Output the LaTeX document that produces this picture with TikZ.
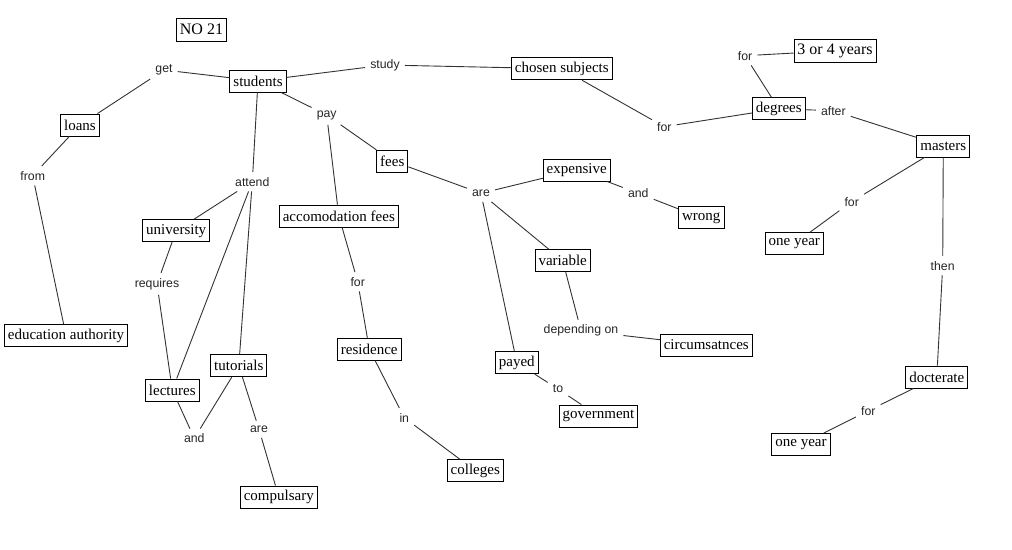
\documentclass[tikz,border=0pt]{standalone}
\usepackage{fontspec}
\setmainfont{Liberation Serif}
\newfontfamily\lblfam{Liberation Sans}
\newcommand\bxf{\fontsize{15}{18}\selectfont}
\newcommand\bigbxf{\fontsize{16}{19}\selectfont}
\newcommand\lbf{\lblfam\fontsize{12.3}{14}\selectfont}
\begin{document}
\begin{tikzpicture}[x=1pt,y=-1pt,
  concept/.style={draw=black, line width=0.9pt, font=\bxf, inner xsep=3.5pt, inner ysep=0pt, minimum height=22pt},
  bigconcept/.style={concept, font=\bigbxf, minimum height=23pt},
  lbl/.style={font=\lbf, inner sep=5pt, text=black!85},
  link/.style={draw=black!80, line width=0.9pt}]
\useasboundingbox[fill=white] (0,0) rectangle (1012,549);

% concepts
\node[bigconcept] (no21) at (201.5,29.5) {NO 21};
\node[concept] (students) at (258,81) {students};
\node[concept] (loans) at (80,125) {loans};
\node[concept] (edu) at (66,335.5) {education authority};
\node[concept] (chosen) at (561.8,68.8) {chosen subjects};
\node[concept] (fees) at (392.3,161) {fees};
\node[concept] (expensive) at (576.7,170) {expensive};
\node[concept] (wrong) at (701.3,217.8) {wrong};
\node[bigconcept] (years) at (835,50.8) {3 or 4 years};
\node[concept] (degrees) at (778.8,108.8) {degrees};
\node[concept] (masters) at (943.3,146) {masters};
\node[concept] (oneyearA) at (794.3,243.7) {one year};
\node[concept] (docterate) at (936.8,377) {docterate};
\node[concept] (oneyearB) at (801,444.5) {one year};
\node[concept] (university) at (176.2,230.7) {university};
\node[concept] (lectures) at (172.3,390) {lectures};
\node[concept] (tutorials) at (238.8,365.7) {tutorials};
\node[concept] (compulsary) at (278.8,497) {compulsary};
\node[concept] (accom) at (338.8,216) {accomodation fees};
\node[concept] (residence) at (369.3,349.2) {residence};
\node[concept] (colleges) at (475.3,470.8) {colleges};
\node[concept] (variable) at (562.7,260.7) {variable};
\node[concept] (circ) at (706.3,345) {circumsatnces};
\node[concept] (payed) at (516.8,362.7) {payed};
\node[concept] (government) at (598.5,416) {government};

% linking phrases
\node[lbl] (get) at (164,70) {get};
\node[lbl] (from) at (32.7,175.7) {from};
\node[lbl] (study) at (385,65) {study};
\node[lbl] (forB) at (664.3,126.7) {for};
\node[lbl] (forA) at (745,55.7) {for};
\node[lbl] (after) at (833.3,110.7) {after};
\node[lbl] (forC) at (851.7,201.7) {for};
\node[lbl] (then) at (942.7,265.7) {then};
\node[lbl] (forD) at (868.3,410.7) {for};
\node[lbl] (attend) at (252.3,181.7) {attend};
\node[lbl] (requires) at (157,284) {requires};
\node[lbl] (andA) at (194.3,438.3) {and};
\node[lbl] (areA) at (259,429.3) {are};
\node[lbl] (pay) at (326.7,115) {pay};
\node[lbl] (forE) at (357.7,281.7) {for};
\node[lbl] (in) at (404.3,417.7) {in};
\node[lbl] (areB) at (481,193.3) {are};
\node[lbl] (andB) at (638.3,193.3) {and};
\node[lbl] (depending) at (581,330.7) {depending on};
\node[lbl] (to) at (558,389) {to};

% connectors
\draw[link] (get) -- (students);
\draw[link] (get) -- (loans);
\draw[link] (loans) -- (from);
\draw[link] (from) -- (edu);
\draw[link] (students) -- (study);
\draw[link] (study) -- (chosen);
\draw[link] (chosen) -- (forB);
\draw[link] (forB) -- (degrees);
\draw[link] (degrees) -- (forA);
\draw[link] (forA) -- (years);
\draw[link] (degrees) -- (after);
\draw[link] (after) -- (masters);
\draw[link] (masters) -- (forC);
\draw[link] (forC) -- (oneyearA);
\draw[link] (masters) -- (then);
\draw[link] (then) -- (docterate);
\draw[link] (docterate) -- (forD);
\draw[link] (forD) -- (oneyearB);
\draw[link] (students) -- (attend);
\draw[link] (attend) -- (university);
\draw[link] (attend) -- (lectures);
\draw[link] (attend) -- (tutorials);
\draw[link] (university) -- (requires);
\draw[link] (requires) -- (lectures);
\draw[link] (lectures) -- (andA);
\draw[link] (tutorials) -- (andA);
\draw[link] (tutorials) -- (areA);
\draw[link] (areA) -- (compulsary);
\draw[link] (students) -- (pay);
\draw[link] (pay) -- (fees);
\draw[link] (pay) -- (accom);
\draw[link] (accom) -- (forE);
\draw[link] (forE) -- (residence);
\draw[link] (residence) -- (in);
\draw[link] (in) -- (colleges);
\draw[link] (fees) -- (areB);
\draw[link] (areB) -- (expensive);
\draw[link] (areB) -- (variable);
\draw[link] (areB) -- (payed);
\draw[link] (expensive) -- (andB);
\draw[link] (andB) -- (wrong);
\draw[link] (variable) -- (depending);
\draw[link] (depending) -- (circ);
\draw[link] (payed) -- (to);
\draw[link] (to) -- (government);
\end{tikzpicture}
\end{document}
